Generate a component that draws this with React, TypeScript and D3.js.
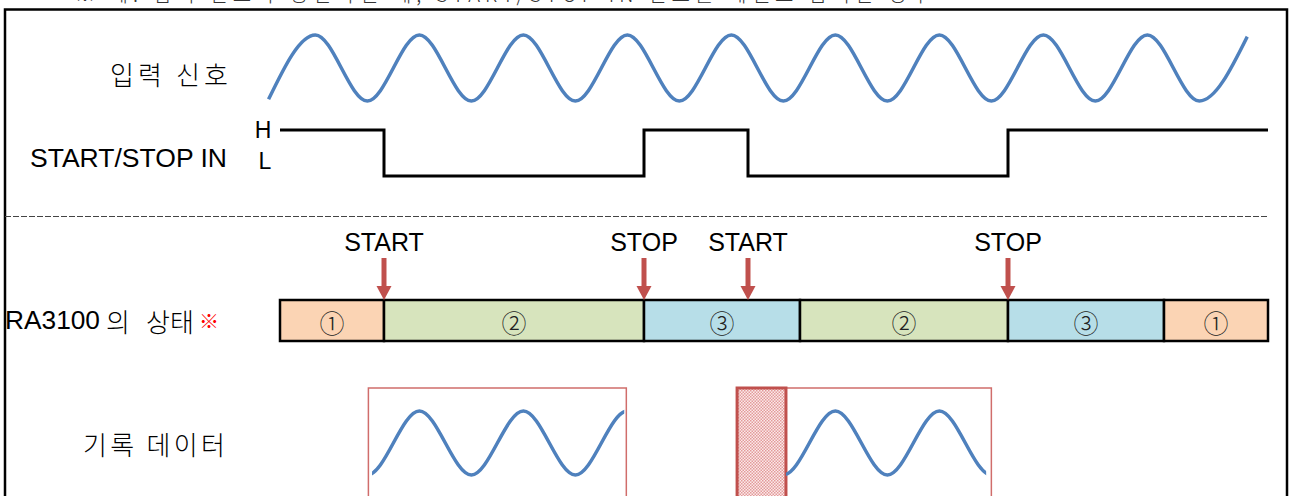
import { useMemo } from "react"
import * as d3 from "d3"

// time axis in arbitrary units (one input period = 10)
const inputPeaks = [3.4, 13.4, 23.4, 33.4, 43.4, 53.4, 63.4, 73.4, 83.4]
const inputTroughs = [8.4, 18.4, 28.4, 38.4, 48.4, 58.4, 68.4, 78.4, 88.4]
const inputStart = { t: -1.1, v: -0.95 }
const inputEnd = { t: 93.0, v: 0.95 }

const levelChanges = [
  { t: 0, level: "H" },
  { t: 10, level: "L" },
  { t: 35, level: "H" },
  { t: 45, level: "L" },
  { t: 70, level: "H" },
]
const timeEnd = 95

const states = [
  { from: 0, to: 10, state: 1 },
  { from: 10, to: 35, state: 2 },
  { from: 35, to: 50, state: 3 },
  { from: 50, to: 70, state: 2 },
  { from: 70, to: 85, state: 3 },
  { from: 85, to: 95, state: 1 },
]
const stateLabels = ["①", "②", "③"]
const stateColors = ["#fbd4b4", "#d7e4bd", "#b7dee8"]

const events = [
  { t: 10, label: "START" },
  { t: 35, label: "STOP" },
  { t: 45, label: "START" },
  { t: 70, label: "STOP" },
]

const records = [
  { boxFrom: 8.5, boxTo: 33.3, hatchTo: null as number | null, dataFrom: 8.85, dataTo: 33.1 },
  { boxFrom: 43.95, boxTo: 68.4, hatchTo: 48.65, dataFrom: 48.65, dataTo: 67.9 },
]

const W = 1292
const H = 496
const BLUE = "#4f81bd"
const RED = "#c0504d"
const LATIN = "'Liberation Sans', Arial, sans-serif"
const KOREAN = "'Noto Sans CJK KR', sans-serif"

export default function App() {
  const x = d3.scaleLinear().domain([0, timeEnd]).range([280, 1268])
  const yIn = d3.scaleLinear().domain([-1, 1]).range([101, 35])
  const yRec = d3.scaleLinear().domain([-1, 1]).range([475, 411])
  const yLevel = d3.scaleOrdinal<string, number>().domain(["H", "L"]).range([130, 176])

  const inputPoints = useMemo(() => {
    const pts = [inputStart]
    inputPeaks.forEach((p) => pts.push({ t: p, v: 1 }))
    inputTroughs.forEach((p) => pts.push({ t: p, v: -1 }))
    pts.push(inputEnd)
    return pts.sort((a, b) => a.t - b.t)
  }, [])

  const inputLine = d3
    .line<{ t: number; v: number }>()
    .x((d) => x(d.t))
    .y((d) => yIn(d.v))
    .curve(d3.curveMonotoneX)

  const recLine = d3
    .line<{ t: number; v: number }>()
    .x((d) => x(d.t))
    .y((d) => yRec(d.v))
    .curve(d3.curveMonotoneX)

  const levelLine = d3
    .line<{ t: number; level: string }>()
    .x((d) => x(d.t))
    .y((d) => yLevel(d.level))
    .curve(d3.curveStepAfter)
  const levelPts = [...levelChanges, { t: timeEnd, level: levelChanges[levelChanges.length - 1].level }]

  const barTop = 300
  const barH = 41

  return (
    <svg
      width={W}
      height={H}
      viewBox={`0 0 ${W} ${H}`}
      style={{ position: "absolute", left: 0, top: 0, background: "#fff" }}
    >
      <defs>
        <pattern id="checker" width="3" height="3" patternUnits="userSpaceOnUse">
          <rect width="3" height="3" fill="#fbeaea" />
          <rect width="1.5" height="1.5" fill="#e39a9a" />
          <rect x="1.5" y="1.5" width="1.5" height="1.5" fill="#e39a9a" />
        </pattern>
        {records.map((r, i) => (
          <clipPath id={`rec-clip-${i}`} key={i}>
            <rect x={x(r.dataFrom)} y={380} width={x(r.dataTo) - x(r.dataFrom)} height={120} />
          </clipPath>
        ))}
      </defs>

      {/* caption line above the frame, cut by the page top */}
      <text
        x={75}
        y={2}
        fontFamily={KOREAN}
        fontSize={20}
        fontWeight={300}
        textLength={855}
        lengthAdjust="spacing"
        fill="#333"
      >
        ※ 예: 입력 신호가 정현파일 때, START/STOP IN 신호를 레벨로 입력한 경우
      </text>

      {/* outer frame */}
      <rect x={5} y={9.5} width={1282} height={600} fill="none" stroke="#000" strokeWidth={2.5} />

      {/* left labels */}
      <g fill="#000" dominantBaseline="central">
        <text x={110} y={73} fontFamily={KOREAN} fontSize={26} fontWeight={300} textLength={118} lengthAdjust="spacing">
          입력 신호
        </text>
        <text x={30} y={158} fontFamily={LATIN} fontSize={25} textLength={197} lengthAdjust="spacingAndGlyphs">
          START/STOP IN
        </text>
        <text x={263} y={130} fontFamily={LATIN} fontSize={23} textAnchor="middle">
          H
        </text>
        <text x={265} y={161} fontFamily={LATIN} fontSize={23} textAnchor="middle">
          L
        </text>
        <text y={320}>
          <tspan x={5} fontFamily={LATIN} fontSize={25} textLength={95} lengthAdjust="spacingAndGlyphs">
            RA3100
          </tspan>
          <tspan x={106} fontFamily={KOREAN} fontSize={26} fontWeight={300}>
            의
          </tspan>
          <tspan x={146} fontFamily={KOREAN} fontSize={26} fontWeight={300}>
            상태
          </tspan>
          <tspan x={199} fontFamily={KOREAN} fontSize={20} fill="#ff0000">
            ※
          </tspan>
        </text>
        <text x={83} y={443} fontFamily={KOREAN} fontSize={26} fontWeight={300} textLength={142} lengthAdjust="spacing">
          기록 데이터
        </text>
      </g>

      {/* input signal */}
      <path d={inputLine(inputPoints) ?? ""} fill="none" stroke={BLUE} strokeWidth={3.5} />

      {/* START/STOP IN level */}
      <path d={levelLine(levelPts) ?? ""} fill="none" stroke="#000" strokeWidth={3} />

      {/* dashed separator */}
      <line x1={5} x2={1267} y1={216.5} y2={216.5} stroke="#444" strokeWidth={1} strokeDasharray="6 2" />

      {/* state bar */}
      {states.map((s, i) => (
        <g key={i}>
          <rect
            x={x(s.from)}
            y={barTop}
            width={x(s.to) - x(s.from)}
            height={barH}
            fill={stateColors[s.state - 1]}
            stroke="#000"
            strokeWidth={2.5}
          />
          <text
            x={(x(s.from) + x(s.to)) / 2}
            y={barTop + barH / 2 + 1}
            textAnchor="middle"
            dominantBaseline="central"
            fontFamily={KOREAN}
            fontWeight={300}
            fontSize={25}
            fill="#222"
          >
            {stateLabels[s.state - 1]}
          </text>
        </g>
      ))}

      {/* event arrows */}
      {events.map((e, i) => {
        const cx = x(e.t)
        return (
          <g key={i}>
            <text
              x={cx}
              y={242}
              textAnchor="middle"
              dominantBaseline="central"
              fontFamily={LATIN}
              fontSize={25}
              fill="#000"
            >
              {e.label}
            </text>
            <line x1={cx} x2={cx} y1={258} y2={288} stroke={RED} strokeWidth={5} />
            <path d={`M${cx - 7.5},${286} L${cx + 7.5},${286} L${cx},${300} Z`} fill={RED} />
          </g>
        )
      })}

      {/* recorded data */}
      {records.map((r, i) => (
        <g key={i}>
          <rect
            x={x(r.boxFrom)}
            y={388}
            width={x(r.boxTo) - x(r.boxFrom)}
            height={200}
            fill="#fff"
            stroke="#d06d6b"
            strokeWidth={1.5}
          />
          {r.hatchTo !== null && (
            <rect
              x={x(r.boxFrom)}
              y={388}
              width={x(r.hatchTo) - x(r.boxFrom)}
              height={200}
              fill="url(#checker)"
              stroke={RED}
              strokeWidth={3}
            />
          )}
          <path
            d={recLine(inputPoints) ?? ""}
            clipPath={`url(#rec-clip-${i})`}
            fill="none"
            stroke={BLUE}
            strokeWidth={3.5}
          />
        </g>
      ))}
    </svg>
  )
}
